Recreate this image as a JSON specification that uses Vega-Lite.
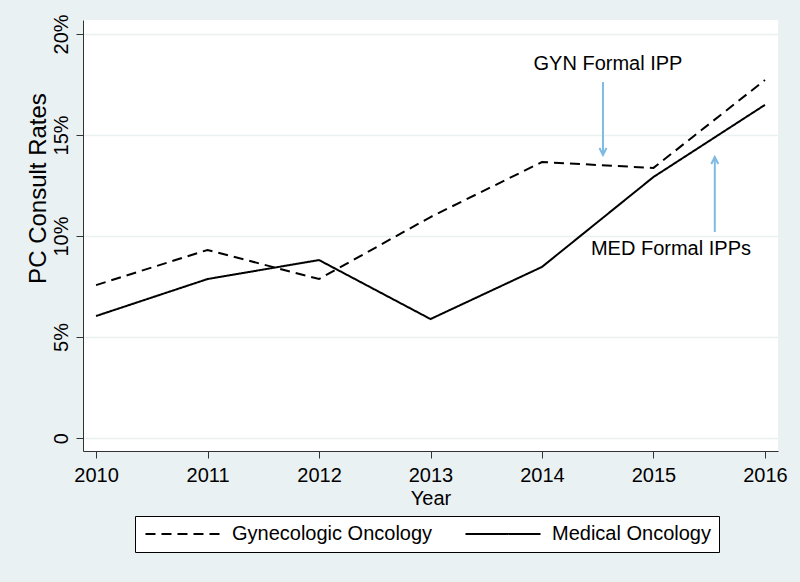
{
  "$schema": "https://vega.github.io/schema/vega-lite/v6.json",
  "width": 695,
  "height": 431,
  "autosize": {"type": "none"},
  "padding": {"left": 83, "top": 20, "right": 22, "bottom": 131},
  "background": "#EAF1F3",
  "config": {
    "view": {"fill": "white", "stroke": null},
    "font": "Liberation Sans",
    "axis": {"domainColor": "#333333", "tickColor": "#333333", "labelColor": "black", "titleColor": "black", "titleFontWeight": "normal", "labelFont": "Liberation Sans", "titleFont": "Liberation Sans"}
  },
  "datasets": {
    "series": [
      {"Year": 2010, "Rate": 7.57, "Specialty": "Gynecologic Oncology"},
      {"Year": 2011, "Rate": 9.31, "Specialty": "Gynecologic Oncology"},
      {"Year": 2012, "Rate": 7.87, "Specialty": "Gynecologic Oncology"},
      {"Year": 2013, "Rate": 10.94, "Specialty": "Gynecologic Oncology"},
      {"Year": 2014, "Rate": 13.66, "Specialty": "Gynecologic Oncology"},
      {"Year": 2015, "Rate": 13.37, "Specialty": "Gynecologic Oncology"},
      {"Year": 2016, "Rate": 17.72, "Specialty": "Gynecologic Oncology"},
      {"Year": 2010, "Rate": 6.04, "Specialty": "Medical Oncology"},
      {"Year": 2011, "Rate": 7.87, "Specialty": "Medical Oncology"},
      {"Year": 2012, "Rate": 8.81, "Specialty": "Medical Oncology"},
      {"Year": 2013, "Rate": 5.89, "Specialty": "Medical Oncology"},
      {"Year": 2014, "Rate": 8.47, "Specialty": "Medical Oncology"},
      {"Year": 2015, "Rate": 12.92, "Specialty": "Medical Oncology"},
      {"Year": 2016, "Rate": 16.49, "Specialty": "Medical Oncology"}
    ],
    "arrows": [
      {"Year": 2014.547, "From": 17.62, "To": 14.01, "Dir": "down"},
      {"Year": 2015.55, "From": 10.2, "To": 13.91, "Dir": "up"}
    ],
    "notes": [
      {"Year": 2014.592, "Rate": 18.51, "Label": "GYN Formal IPP"},
      {"Year": 2015.157, "Rate": 9.36, "Label": "MED Formal IPPs"}
    ]
  },
  "layer": [
    {
      "data": {"name": "series"},
      "mark": {"type": "line", "color": "black", "strokeWidth": 2},
      "encoding": {
        "x": {
          "field": "Year", "type": "quantitative",
          "scale": {"domain": [2009.883, 2016.117], "nice": false, "zero": false},
          "axis": {"values": [2010, 2011, 2012, 2013, 2014, 2015, 2016], "format": "d", "grid": false, "title": "Year", "labelFontSize": 20, "titleFontSize": 20, "tickSize": 7, "labelPadding": 7, "titlePadding": 3, "labelFlush": false}
        },
        "y": {
          "field": "Rate", "type": "quantitative",
          "scale": {"domain": [-0.64, 20.69], "nice": false, "zero": false},
          "axis": {"values": [0, 5, 10, 15, 20], "labelExpr": "datum.value == 0 ? '0' : datum.value + '%'", "grid": true, "gridColor": "#EAF1F3", "gridWidth": 1.5, "title": "PC Consult Rates", "labelFontSize": 20, "titleFontSize": 24, "tickSize": 7, "labelAngle": -90, "labelAlign": "center", "labelBaseline": "alphabetic", "labelPadding": 9, "titleAngle": -90, "titleAlign": "center", "titleBaseline": "alphabetic", "titleX": -38, "titleY": 168, "labelFlush": false}
        },
        "strokeDash": {
          "field": "Specialty", "type": "nominal",
          "scale": {"domain": ["Gynecologic Oncology", "Medical Oncology"], "range": [[10, 6], [1, 0]]},
          "legend": {
            "title": null, "orient": "none", "legendX": 52, "legendY": 496,
            "direction": "horizontal", "columns": 2, "columnPadding": 28,
            "symbolType": "M-1,0L9,0", "symbolSize": 225, "symbolStrokeWidth": 2, "symbolStrokeColor": "black",
            "labelFontSize": 20, "labelOffset": 69, "labelLimit": 400, "labelColor": "black", "labelFont": "Liberation Sans",
            "fillColor": "white", "strokeColor": "black", "padding": 8
          }
        }
      }
    },
    {
      "data": {"name": "arrows"},
      "mark": {"type": "rule", "color": "#7DBBE3", "strokeWidth": 2},
      "encoding": {
        "x": {"field": "Year", "type": "quantitative"},
        "y": {"field": "From", "type": "quantitative"},
        "y2": {"field": "To"}
      }
    },
    {
      "data": {"name": "arrows"},
      "transform": [{"filter": "datum.Dir == 'down'"}],
      "mark": {"type": "point", "shape": "M-0.5,-1L0,0L0.5,-1", "filled": false, "color": "#7DBBE3", "strokeWidth": 2, "size": 196, "opacity": 1},
      "encoding": {
        "x": {"field": "Year", "type": "quantitative"},
        "y": {"field": "To", "type": "quantitative"}
      }
    },
    {
      "data": {"name": "arrows"},
      "transform": [{"filter": "datum.Dir == 'up'"}],
      "mark": {"type": "point", "shape": "M-0.5,1L0,0L0.5,1", "filled": false, "color": "#7DBBE3", "strokeWidth": 2, "size": 196, "opacity": 1},
      "encoding": {
        "x": {"field": "Year", "type": "quantitative"},
        "y": {"field": "To", "type": "quantitative"}
      }
    },
    {
      "data": {"name": "notes"},
      "mark": {"type": "text", "fontSize": 20, "color": "black", "align": "center", "baseline": "middle", "font": "Liberation Sans"},
      "encoding": {
        "x": {"field": "Year", "type": "quantitative"},
        "y": {"field": "Rate", "type": "quantitative"},
        "text": {"field": "Label"}
      }
    }
  ]
}
